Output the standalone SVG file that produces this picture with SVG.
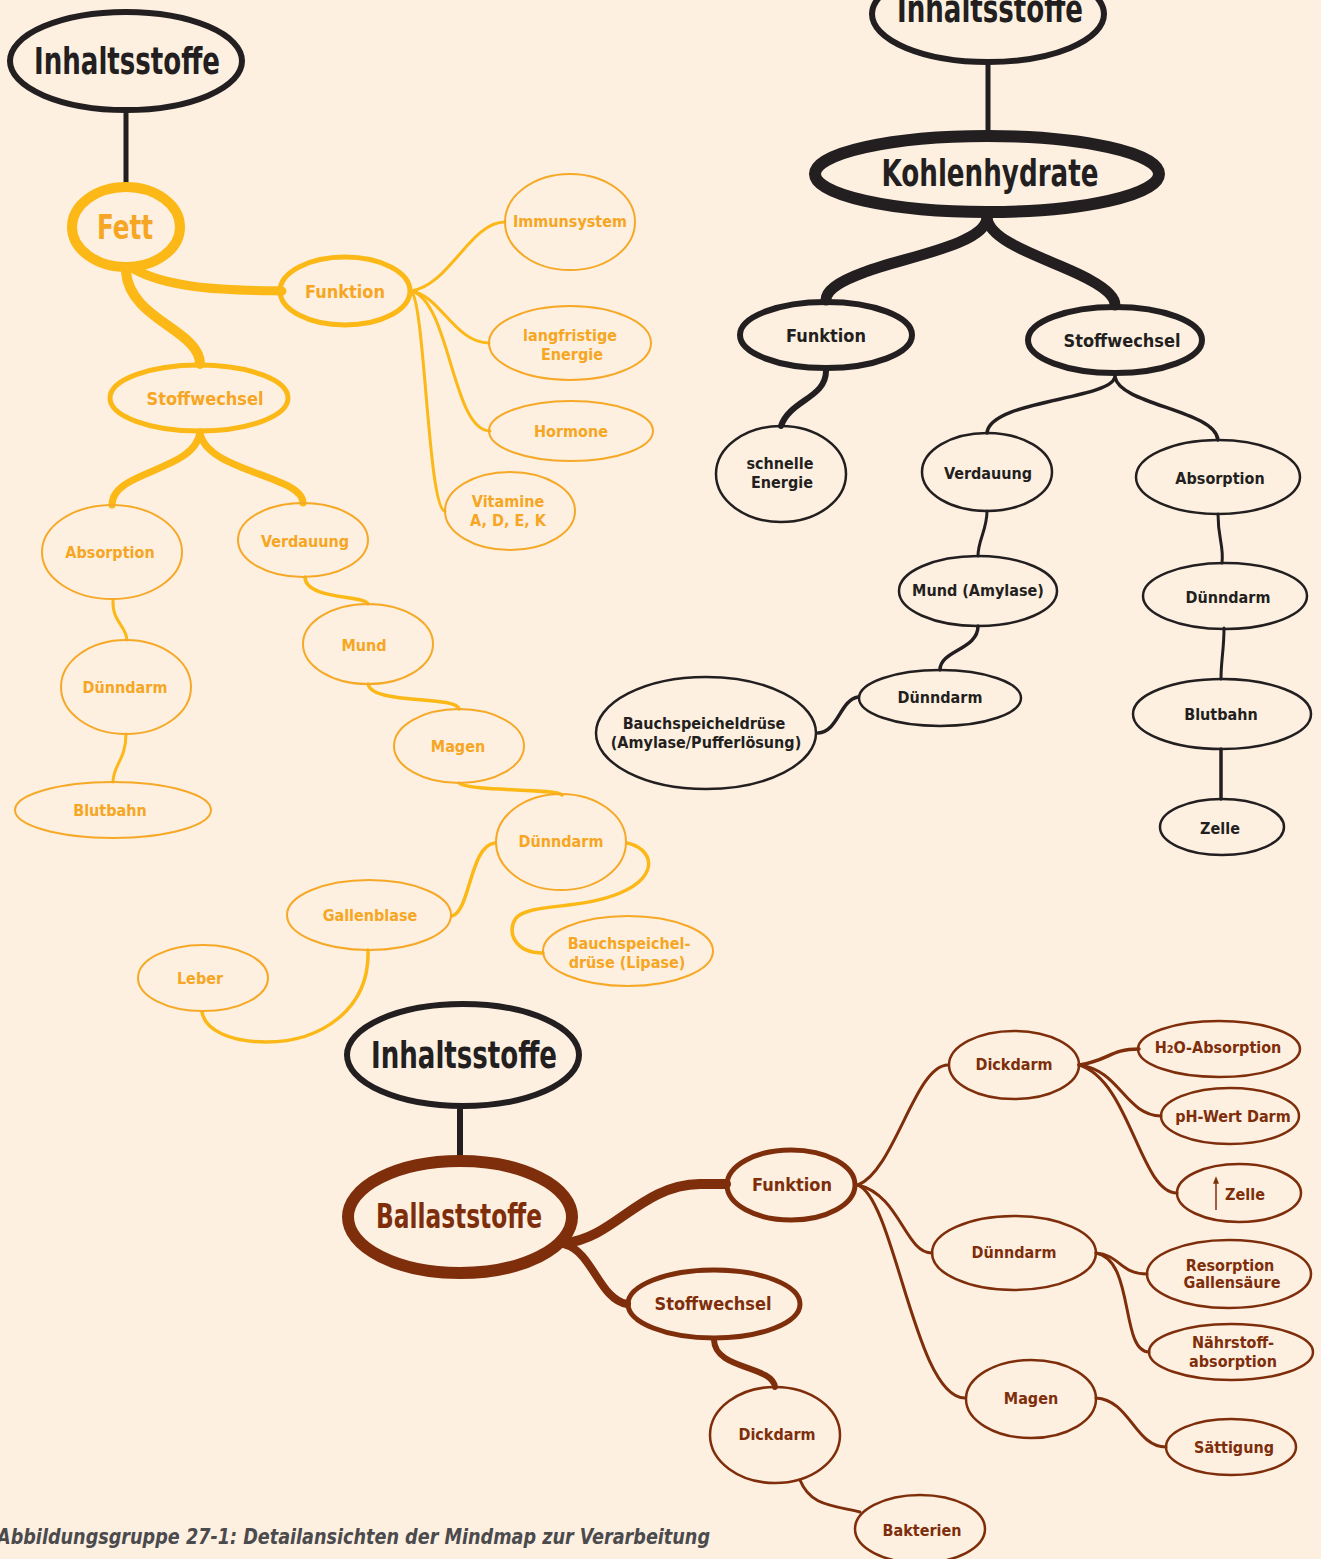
<svg xmlns="http://www.w3.org/2000/svg" width="1321" height="1559" viewBox="0 0 1321 1559">
<defs>
<style>
text{font-family:'Liberation Sans Narrow','DejaVu Sans Condensed','Liberation Sans',sans-serif;font-weight:bold;text-anchor:middle}
.t-big{font-size:38px;fill:#231f20}
.t-m{font-size:18px}
.t-s{font-size:16px}
.y{fill:#f6a623}
.d{fill:#231f20}
.b{fill:#7e2e0b}
.nd{fill:none;stroke:#231f20}
.ny{fill:none;stroke:#fbb817}
.nyt{fill:none;stroke:#f6a827;stroke-width:2}
.nb{fill:none;stroke:#7e2e0b}
.cd{fill:none;stroke:#231f20;stroke-linecap:round}
.cy{fill:none;stroke:#fbb817;stroke-linecap:round}
.cb{fill:none;stroke:#7e2e0b;stroke-linecap:round}
.cap{font-size:22px;font-style:italic;font-weight:bold;fill:#4b4a4c;text-anchor:start}
</style>
<marker id="arr" viewBox="0 0 10 10" refX="5" refY="5" markerWidth="5" markerHeight="5" orient="auto">
<path d="M0,1 L10,5 L0,9 Z" fill="#7e2e0b"/>
</marker>
</defs>
<rect width="1321" height="1559" fill="#fdf0e1"/>

<g id="connectors">
<!-- yellow -->
<path class="cd" stroke-width="5" d="M126,112 L126,183"/>
<path class="cy" stroke-width="9" d="M132,268 C170,290 230,290 282,291"/>
<path class="cy" stroke-width="10" d="M126,272 C130,320 200,330 200,364"/>
<path class="cy" stroke-width="3" d="M411,291 C450,285 470,222 505,222"/>
<path class="cy" stroke-width="3" d="M411,291 C440,295 455,343 489,343"/>
<path class="cy" stroke-width="3" d="M411,291 C450,300 452,431 490,431"/>
<path class="cy" stroke-width="3" d="M411,291 C425,300 428,511 445,511"/>
<path class="cy" stroke-width="7" d="M200,432 C195,472 112,470 112,505"/>
<path class="cy" stroke-width="7" d="M200,432 C205,472 303,475 303,503"/>
<path class="cy" stroke-width="3" d="M113,600 C112,622 126,625 127,640"/>
<path class="cy" stroke-width="3" d="M126,734 C126,760 113,765 113,782"/>
<path class="cy" stroke-width="3.5" d="M305,577 C305,600 366,595 368,604"/>
<path class="cy" stroke-width="3.5" d="M368,684 C372,705 455,695 459,709"/>
<path class="cy" stroke-width="3.5" d="M459,783 C470,792 555,788 562,795"/>
<path class="cy" stroke-width="3.5" d="M452,916 C470,912 470,845 495,843"/>
<path class="cy" stroke-width="3.5" d="M627,843 C652,848 662,875 620,893 C580,910 530,903 516,918 C506,932 515,953 543,953"/>
<path class="cy" stroke-width="3.5" d="M368,950 C370,1010 320,1042 266,1042 C230,1042 205,1030 202,1012"/>
<!-- dark -->
<path class="cd" stroke-width="5" d="M988,64 L988,132"/>
<path class="cd" stroke-width="11" d="M987,218 C985,245 900,258 865,272 C835,283 826,292 826,300"/>
<path class="cd" stroke-width="11" d="M987,218 C990,245 1060,262 1090,280 C1112,292 1115,300 1115,305"/>
<path class="cd" stroke-width="6" d="M826,371 C826,398 790,400 781,426"/>
<path class="cd" stroke-width="3.5" d="M1115,377 C1110,400 990,400 987,433"/>
<path class="cd" stroke-width="3.5" d="M1115,377 C1120,405 1215,410 1218,440"/>
<path class="cd" stroke-width="3" d="M987,511 C987,530 978,540 978,556"/>
<path class="cd" stroke-width="3.5" d="M978,626 C978,650 940,650 940,670"/>
<path class="cd" stroke-width="3.5" d="M858,697 C840,700 838,732 818,733"/>
<path class="cd" stroke-width="3" d="M1218,514 C1218,540 1224,545 1222,563"/>
<path class="cd" stroke-width="3" d="M1224,628 C1224,650 1221,660 1221,679"/>
<path class="cd" stroke-width="3.5" d="M1221,749 L1221,799"/>
<!-- brown -->
<path class="cd" stroke-width="6" d="M460,1110 L460,1160"/>
<path class="cb" stroke-width="10" d="M565,1243 C615,1238 640,1185 700,1184 L726,1184"/>
<path class="cb" stroke-width="8" d="M566,1245 C592,1252 600,1300 627,1304"/>
<path class="cb" stroke-width="6" d="M714,1340 C715,1370 772,1365 775,1387"/>
<path class="cb" stroke-width="3" d="M800,1480 C810,1505 830,1505 860,1512"/>
<path class="cb" stroke-width="3" d="M858,1185 C895,1170 915,1065 948,1065"/>
<path class="cb" stroke-width="3" d="M858,1185 C900,1195 905,1253 932,1253"/>
<path class="cb" stroke-width="3" d="M858,1185 C895,1200 915,1398 965,1398"/>
<path class="cb" stroke-width="3.5" d="M1079,1065 C1110,1060 1110,1049 1139,1049"/>
<path class="cb" stroke-width="3" d="M1079,1065 C1120,1070 1125,1115 1161,1116"/>
<path class="cb" stroke-width="3" d="M1079,1065 C1130,1080 1140,1193 1177,1193"/>
<path class="cb" stroke-width="3" d="M1096,1253 C1120,1255 1120,1274 1147,1274"/>
<path class="cb" stroke-width="3" d="M1096,1253 C1135,1260 1120,1352 1149,1352"/>
<path class="cb" stroke-width="3" d="M1096,1398 C1130,1400 1135,1447 1166,1447"/>
</g>

<!-- Yellow mindmap: Fett -->
<g id="y-inhalt"><ellipse class="nd" stroke-width="6" cx="126" cy="61" rx="116" ry="49"/><text class="t-big" x="127" y="74" textLength="186" lengthAdjust="spacingAndGlyphs">Inhaltsstoffe</text></g>
<g id="y-fett"><ellipse class="ny" stroke-width="10" cx="126" cy="227" rx="54" ry="40"/><text class="y" style="font-size:34px" x="125" y="239" textLength="56" lengthAdjust="spacingAndGlyphs">Fett</text></g>
<g id="y-funktion"><ellipse class="ny" stroke-width="5" cx="345" cy="291" rx="65" ry="34"/><text class="t-m y" x="345" y="298">Funktion</text></g>
<g id="y-stoffwechsel"><ellipse class="ny" stroke-width="5" cx="199" cy="398" rx="89" ry="33"/><text class="t-m y" x="205" y="405">Stoffwechsel</text></g>
<g id="y-immun"><ellipse class="nyt" cx="570" cy="222" rx="65" ry="48"/><text class="t-s y" x="570" y="227">Immunsystem</text></g>
<g id="y-energie"><ellipse class="nyt" cx="570" cy="343" rx="81" ry="37"/><text class="t-s y" x="570" y="341">langfristige</text><text class="t-s y" x="572" y="360">Energie</text></g>
<g id="y-hormone"><ellipse class="nyt" cx="571" cy="431" rx="82" ry="30"/><text class="t-s y" x="571" y="437">Hormone</text></g>
<g id="y-vitamine"><ellipse class="nyt" cx="510" cy="511" rx="65" ry="39"/><text class="t-s y" x="508" y="507">Vitamine</text><text class="t-s y" x="508" y="526">A, D, E, K</text></g>
<g id="y-absorption"><ellipse class="nyt" cx="112" cy="552" rx="70" ry="47"/><text class="t-s y" x="110" y="558">Absorption</text></g>
<g id="y-verdauung"><ellipse class="nyt" cx="303" cy="540" rx="65" ry="37"/><text class="t-s y" x="305" y="547">Verdauung</text></g>
<g id="y-duenndarm1"><ellipse class="nyt" cx="126" cy="687" rx="65" ry="47"/><text class="t-s y" x="125" y="693">Dünndarm</text></g>
<g id="y-blutbahn"><ellipse class="nyt" cx="113" cy="810" rx="98" ry="28"/><text class="t-s y" x="110" y="816">Blutbahn</text></g>
<g id="y-mund"><ellipse class="nyt" cx="368" cy="644" rx="65" ry="40"/><text class="t-s y" x="364" y="651">Mund</text></g>
<g id="y-magen"><ellipse class="nyt" cx="459" cy="746" rx="65" ry="37"/><text class="t-s y" x="458" y="752">Magen</text></g>
<g id="y-duenndarm2"><ellipse class="nyt" cx="561" cy="842" rx="65" ry="48"/><text class="t-s y" x="561" y="847">Dünndarm</text></g>
<g id="y-gallenblase"><ellipse class="nyt" cx="369" cy="915" rx="82" ry="35"/><text class="t-s y" x="370" y="921">Gallenblase</text></g>
<g id="y-leber"><ellipse class="nyt" cx="203" cy="978" rx="65" ry="33"/><text class="t-s y" x="200" y="984">Leber</text></g>
<g id="y-bauch"><ellipse class="nyt" cx="628" cy="951" rx="85" ry="35"/><text class="t-s y" x="629" y="949">Bauchspeichel-</text><text class="t-s y" x="627" y="968">drüse (Lipase)</text></g>

<!-- Dark mindmap: Kohlenhydrate -->
<g id="d-inhalt"><ellipse class="nd" stroke-width="6" cx="988" cy="14" rx="116" ry="48"/><text class="t-big" x="990" y="22" textLength="186" lengthAdjust="spacingAndGlyphs">Inhaltsstoffe</text></g>
<g id="d-kohlen"><ellipse class="nd" stroke-width="12" cx="987" cy="174" rx="172" ry="38"/><text class="t-big" x="990" y="186" textLength="217" lengthAdjust="spacingAndGlyphs">Kohlenhydrate</text></g>
<g id="d-funktion"><ellipse class="nd" stroke-width="6" cx="826" cy="335" rx="86" ry="33"/><text class="t-m d" x="826" y="342">Funktion</text></g>
<g id="d-stoffwechsel"><ellipse class="nd" stroke-width="6" cx="1115" cy="340" rx="87" ry="33"/><text class="t-m d" x="1122" y="347">Stoffwechsel</text></g>
<g id="d-schnelle"><ellipse class="nd" stroke-width="2.5" cx="781" cy="474" rx="65" ry="48"/><text class="t-s d" x="780" y="469">schnelle</text><text class="t-s d" x="782" y="488">Energie</text></g>
<g id="d-verdauung"><ellipse class="nd" stroke-width="2.5" cx="987" cy="472" rx="65" ry="39"/><text class="t-s d" x="988" y="479">Verdauung</text></g>
<g id="d-absorption"><ellipse class="nd" stroke-width="2.5" cx="1218" cy="477" rx="82" ry="37"/><text class="t-s d" x="1220" y="484">Absorption</text></g>
<g id="d-mund"><ellipse class="nd" stroke-width="2.5" cx="978" cy="591" rx="79" ry="35"/><text class="t-s d" x="978" y="596">Mund (Amylase)</text></g>
<g id="d-duenndarm1"><ellipse class="nd" stroke-width="2.5" cx="940" cy="698" rx="81" ry="28"/><text class="t-s d" x="940" y="703">Dünndarm</text></g>
<g id="d-bauch"><ellipse class="nd" stroke-width="2.5" cx="706" cy="733" rx="110" ry="56"/><text class="t-s d" x="704" y="729">Bauchspeicheldrüse</text><text class="t-s d" x="706" y="748">(Amylase/Pufferlösung)</text></g>
<g id="d-duenndarm2"><ellipse class="nd" stroke-width="2.5" cx="1225" cy="596" rx="82" ry="33"/><text class="t-s d" x="1228" y="603">Dünndarm</text></g>
<g id="d-blutbahn"><ellipse class="nd" stroke-width="2.5" cx="1222" cy="714" rx="89" ry="35"/><text class="t-s d" x="1221" y="720">Blutbahn</text></g>
<g id="d-zelle"><ellipse class="nd" stroke-width="2.5" cx="1222" cy="827" rx="62" ry="28"/><text class="t-s d" x="1220" y="834">Zelle</text></g>

<!-- Brown mindmap: Ballaststoffe -->
<g id="b-inhalt"><ellipse class="nd" stroke-width="6" cx="463" cy="1055" rx="116" ry="51"/><text class="t-big" x="464" y="1068" textLength="186" lengthAdjust="spacingAndGlyphs">Inhaltsstoffe</text></g>
<g id="b-ballast"><ellipse class="nb" stroke-width="12" cx="460" cy="1217" rx="112" ry="56"/><text class="b" style="font-size:34px" x="459" y="1228" textLength="166" lengthAdjust="spacingAndGlyphs">Ballaststoffe</text></g>
<g id="b-funktion"><ellipse class="nb" stroke-width="5" cx="791" cy="1185" rx="64" ry="35"/><text class="t-m b" x="792" y="1191">Funktion</text></g>
<g id="b-stoffwechsel"><ellipse class="nb" stroke-width="5" cx="714" cy="1304" rx="86" ry="34"/><text class="t-m b" x="713" y="1310">Stoffwechsel</text></g>
<g id="b-dickdarm2"><ellipse class="nb" stroke-width="2.5" cx="775" cy="1435" rx="65" ry="48"/><text class="t-s b" x="777" y="1440">Dickdarm</text></g>
<g id="b-bakterien"><ellipse class="nb" stroke-width="2.5" cx="920" cy="1529" rx="65" ry="34"/><text class="t-s b" x="922" y="1536">Bakterien</text></g>
<g id="b-dickdarm1"><ellipse class="nb" stroke-width="2.5" cx="1014" cy="1065" rx="65" ry="34"/><text class="t-s b" x="1014" y="1070">Dickdarm</text></g>
<g id="b-duenndarm"><ellipse class="nb" stroke-width="2.5" cx="1014" cy="1253" rx="82" ry="37"/><text class="t-s b" x="1014" y="1258">Dünndarm</text></g>
<g id="b-magen"><ellipse class="nb" stroke-width="2.5" cx="1031" cy="1399" rx="65" ry="39"/><text class="t-s b" x="1031" y="1404">Magen</text></g>
<g id="b-h2o"><ellipse class="nb" stroke-width="2.5" cx="1219" cy="1049" rx="81" ry="28"/><text class="t-s b" x="1218" y="1053">H<tspan style="font-size:11px">2</tspan>O-Absorption</text></g>
<g id="b-ph"><ellipse class="nb" stroke-width="2.5" cx="1230" cy="1116" rx="69" ry="28"/><text class="t-s b" x="1233" y="1122">pH-Wert Darm</text></g>
<g id="b-zelle"><ellipse class="nb" stroke-width="2.5" cx="1239" cy="1193" rx="62" ry="29"/><line x1="1216" y1="1210" x2="1216" y2="1180" stroke="#7e2e0b" stroke-width="1.5" marker-end="url(#arr)"/><text class="t-s b" x="1245" y="1200">Zelle</text></g>
<g id="b-resorption"><ellipse class="nb" stroke-width="2.5" cx="1229" cy="1274" rx="82" ry="34"/><text class="t-s b" x="1230" y="1271">Resorption</text><text class="t-s b" x="1232" y="1288">Gallensäure</text></g>
<g id="b-naehrstoff"><ellipse class="nb" stroke-width="2.5" cx="1231" cy="1352" rx="82" ry="28"/><text class="t-s b" x="1233" y="1348">Nährstoff-</text><text class="t-s b" x="1233" y="1367">absorption</text></g>
<g id="b-saettigung"><ellipse class="nb" stroke-width="2.5" cx="1231" cy="1447" rx="65" ry="28"/><text class="t-s b" x="1234" y="1453">Sättigung</text></g>

<text class="cap" x="-3" y="1544" textLength="713" lengthAdjust="spacingAndGlyphs">Abbildungsgruppe 27-1: Detailansichten der Mindmap zur Verarbeitung</text>
</svg>
